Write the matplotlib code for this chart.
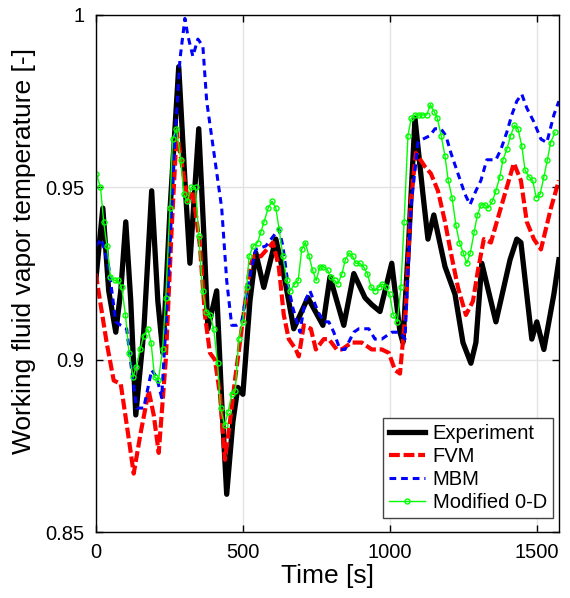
import matplotlib
matplotlib.use("Agg")
import matplotlib.pyplot as plt

plt.rcParams['font.family'] = ['Liberation Sans', 'DejaVu Sans']

# Experiment (black)
t_exp = [0, 24, 44, 68, 85, 102, 119, 136, 163, 190, 211, 228, 252, 282, 303, 320,
         350, 367, 381, 411, 428, 445, 466, 483, 500, 524, 544, 571, 612, 643, 673,
         721, 772, 796, 843, 877, 915, 938, 966, 1006, 1034, 1044, 1064, 1085, 1112,
         1129, 1149, 1187, 1221, 1248, 1275, 1292, 1312, 1360, 1408, 1431, 1445,
         1482, 1499, 1523, 1557, 1574]
T_exp = [0.923, 0.944, 0.920, 0.908, 0.920, 0.940, 0.917, 0.884, 0.908, 0.949,
         0.917, 0.902, 0.943, 0.985, 0.952, 0.928, 0.967, 0.937, 0.909, 0.920,
         0.888, 0.861, 0.882, 0.892, 0.890, 0.917, 0.931, 0.921, 0.935, 0.923,
         0.909, 0.918, 0.910, 0.924, 0.910, 0.925, 0.918, 0.916, 0.914, 0.928,
         0.908, 0.905, 0.935, 0.970, 0.948, 0.935, 0.942, 0.927, 0.919, 0.905,
         0.899, 0.905, 0.928, 0.911, 0.929, 0.935, 0.934, 0.906, 0.911, 0.903,
         0.919, 0.929]

# FVM (red)
t_fvm = [0, 37, 61, 85, 109, 129, 153, 180, 197, 214, 238, 258, 275, 296, 313, 330,
         354, 371, 388, 405, 422, 439, 456, 473, 496, 524, 537, 561, 602, 622, 639,
         656, 680, 690, 707, 731, 748, 775, 792, 819, 836, 870, 904, 938, 972, 996,
         1017, 1034, 1054, 1071, 1088, 1119, 1139, 1163, 1187, 1207, 1231, 1258,
         1282, 1299, 1319, 1343, 1363, 1397, 1421, 1445, 1465, 1489, 1513, 1547, 1574]
T_fvm = [0.925, 0.905, 0.894, 0.893, 0.879, 0.867, 0.879, 0.891, 0.884, 0.873,
         0.900, 0.938, 0.966, 0.955, 0.946, 0.949, 0.933, 0.913, 0.902, 0.900,
         0.890, 0.871, 0.882, 0.894, 0.909, 0.927, 0.930, 0.930, 0.934, 0.927,
         0.913, 0.906, 0.903, 0.901, 0.910, 0.909, 0.903, 0.906, 0.906, 0.903,
         0.903, 0.905, 0.905, 0.903, 0.903, 0.902, 0.897, 0.896, 0.915, 0.946,
         0.960, 0.956, 0.954, 0.949, 0.940, 0.931, 0.921, 0.913, 0.917, 0.926,
         0.935, 0.934, 0.940, 0.950, 0.957, 0.952, 0.940, 0.935, 0.932, 0.944, 0.952]

# MBM (blue)
t_mbm = [0, 20, 44, 68, 85, 105, 122, 139, 163, 190, 207, 224, 248, 265, 286, 303,
         313, 330, 347, 364, 377, 405, 428, 445, 462, 479, 496, 520, 544, 578, 605,
         622, 636, 653, 670, 694, 711, 728, 755, 775, 792, 809, 830, 847, 877, 894,
         928, 949, 972, 1006, 1034, 1051, 1071, 1095, 1112, 1136, 1153, 1173, 1190,
         1207, 1231, 1255, 1272, 1292, 1309, 1329, 1360, 1377, 1397, 1414, 1431,
         1448, 1465, 1489, 1513, 1533, 1557, 1574]
T_mbm = [0.933, 0.935, 0.927, 0.911, 0.910, 0.909, 0.897, 0.886, 0.886, 0.897,
         0.895, 0.889, 0.924, 0.958, 0.987, 0.999, 0.994, 0.988, 0.993, 0.991,
         0.975, 0.958, 0.944, 0.923, 0.910, 0.910, 0.911, 0.923, 0.932, 0.933,
         0.936, 0.938, 0.933, 0.922, 0.915, 0.908, 0.917, 0.920, 0.914, 0.911,
         0.911, 0.908, 0.903, 0.903, 0.908, 0.909, 0.909, 0.906, 0.906, 0.908,
         0.908, 0.906, 0.944, 0.963, 0.964, 0.965, 0.967, 0.967, 0.965, 0.960,
         0.954, 0.948, 0.945, 0.949, 0.952, 0.958, 0.958, 0.961, 0.966, 0.971,
         0.975, 0.977, 0.973, 0.969, 0.964, 0.963, 0.971, 0.975]

# Modified 0-D (green, with markers)
t_0d = [2, 16, 27, 38, 50, 64, 76, 88, 101, 113, 127, 137, 151, 163, 177, 188, 200,
        213, 227, 238, 252, 261, 274, 289, 299, 311, 325, 339, 350, 363, 376, 388,
        401, 414, 424, 438, 450, 462, 474, 486, 499, 513, 521, 535, 550, 561, 572,
        586, 599, 612, 623, 636, 649, 661, 676, 688, 700, 712, 725, 737, 749, 762,
        774, 788, 799, 812, 823, 837, 848, 861, 873, 884, 897, 910, 923, 936, 948,
        961, 974, 986, 999, 1011, 1025, 1037, 1048, 1061, 1072, 1086, 1097, 1110,
        1125, 1137, 1150, 1161, 1174, 1187, 1198, 1211, 1224, 1236, 1249, 1261,
        1273, 1286, 1297, 1310, 1322, 1333, 1348, 1360, 1373, 1384, 1397, 1410,
        1423, 1435, 1448, 1459, 1473, 1485, 1497, 1510, 1523, 1535, 1546, 1561]
T_0d = [0.954, 0.950, 0.940, 0.933, 0.924, 0.923, 0.923, 0.921, 0.913, 0.902,
        0.895, 0.898, 0.903, 0.907, 0.909, 0.905, 0.895, 0.894, 0.903, 0.918,
        0.944, 0.964, 0.967, 0.958, 0.948, 0.946, 0.950, 0.950, 0.936, 0.920,
        0.914, 0.913, 0.909, 0.899, 0.886, 0.881, 0.885, 0.890, 0.891, 0.906,
        0.911, 0.921, 0.930, 0.933, 0.934, 0.937, 0.940, 0.944, 0.946, 0.944,
        0.938, 0.930, 0.923, 0.920, 0.922, 0.923, 0.932, 0.934, 0.930, 0.926,
        0.923, 0.927, 0.927, 0.926, 0.924, 0.923, 0.922, 0.925, 0.929, 0.931,
        0.930, 0.928, 0.928, 0.927, 0.925, 0.921, 0.920, 0.921, 0.922, 0.921,
        0.919, 0.913, 0.911, 0.921, 0.940, 0.965, 0.970, 0.971, 0.971, 0.971,
        0.971, 0.974, 0.972, 0.970, 0.965, 0.959, 0.952, 0.947, 0.939, 0.934,
        0.931, 0.928, 0.931, 0.937, 0.942, 0.945, 0.945, 0.944, 0.946, 0.949,
        0.953, 0.958, 0.961, 0.965, 0.968, 0.967, 0.962, 0.955, 0.953, 0.952,
        0.947, 0.948, 0.953, 0.958, 0.963, 0.966]

x_ticks = [0, 500, 1000, 1500]
y_ticks = [0.85, 0.9, 0.95, 1]
y_ticklabels = ['0.85', '0.9', '0.95', '1']

fig = plt.figure(figsize=(5.7, 5.98), dpi=100)
ax = fig.add_axes([0.168, 0.110, 0.813, 0.865])

ax.plot(t_exp, T_exp, color='black', lw=3.8, solid_joinstyle='round',
        label='Experiment')
ax.plot(t_fvm, T_fvm, color='#ff0000', lw=3.0, linestyle=(0, (2.6, 0.9)),
        label='FVM')
ax.plot(t_mbm, T_mbm, color='#0000ff', lw=2.2, linestyle=(0, (2.2, 1.6)),
        label='MBM')
ax.plot(t_0d, T_0d, color='#00ff00', lw=1.0, marker='o', ms=3.6, mfc='none',
        mew=1.0, label='Modified 0-D')

ax.set_xlim(0, 1575)
ax.set_ylim(0.85, 1.0)
ax.set_xticks(x_ticks)
ax.set_yticks(y_ticks)
ax.set_yticklabels(y_ticklabels)
ax.grid(True, color='#e3e3e3', lw=1.0)
ax.set_axisbelow(True)
ax.tick_params(direction='in', top=True, right=True, length=5, width=1,
               labelsize=14.5, pad=8)
for s in ax.spines.values():
    s.set_linewidth(1.0)

ax.set_xlabel('Time [s]', fontsize=19, labelpad=1)
ax.set_ylabel('Working fluid vapor temperature [-]', fontsize=19)
ax.yaxis.set_label_coords(-0.13, 0.543)

leg = ax.legend(loc='lower right', bbox_to_anchor=(0.987, 0.027), fontsize=14.5,
                fancybox=False, framealpha=1, edgecolor='#444444',
                handlelength=1.8, handletextpad=0.4, borderpad=0.3,
                labelspacing=0.2, borderaxespad=0)
leg.get_frame().set_linewidth(1.0)

fig.savefig('out.png', dpi=100)
